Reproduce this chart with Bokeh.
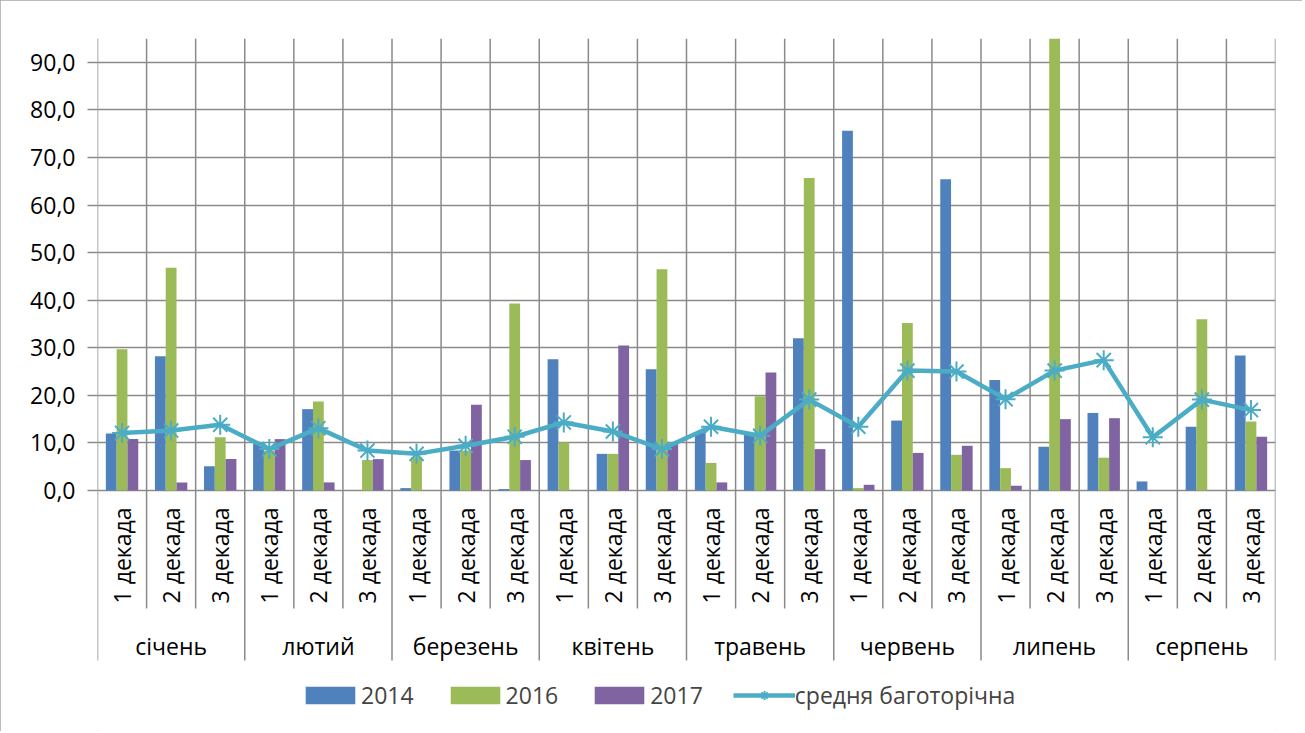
from bokeh.plotting import figure
from bokeh.models import (FixedTicker, Range1d, ColumnDataSource, Legend, LegendItem)
from bokeh.core.properties import value
from bokeh.transform import dodge
from bokeh.embed import file_html
from bokeh.resources import INLINE
import math

# ---------------- data ----------------
months = ["січень", "лютий", "березень", "квітень", "травень", "червень", "липень", "серпень"]
decades = ["1 декада", "2 декада", "3 декада"]
series_names = ["2014", "2016", "2017", "средня баготорічна"]

y2014 = [12.0, 28.2, 5.1, 9.9, 17.1, 0.0, 0.5, 8.4, 0.3, 27.6, 7.7, 25.5,
         12.2, 11.9, 32.0, 75.6, 14.7, 65.4, 23.2, 9.2, 16.3, 1.9, 13.4, 28.4]
y2016 = [29.7, 46.8, 11.2, 8.4, 18.7, 6.4, 7.0, 8.4, 39.3, 10.1, 7.7, 46.5,
         5.8, 19.8, 65.7, 0.5, 35.2, 7.5, 4.7, 95.0, 6.9, 0.0, 36.0, 14.5]
y2017 = [10.8, 1.7, 6.6, 10.8, 1.7, 6.6, 0.0, 18.0, 6.4, 0.0, 30.5, 9.8,
         1.7, 24.8, 8.7, 1.2, 7.9, 9.4, 1.0, 15.0, 15.2, 0.0, 0.0, 11.3]
avg = [12.1, 12.6, 13.8, 8.7, 13.1, 8.4, 7.7, 9.4, 11.3, 14.3, 12.4, 8.7,
       13.4, 11.5, 19.1, 13.4, 25.2, 25.0, 19.2, 25.2, 27.4, 11.2, 19.1, 16.9]
y_ticks = [0, 10, 20, 30, 40, 50, 60, 70, 80, 90]
Y_MAX = 95

# ---------------- styling / layout ----------------
FONT = "Open Sans"
FS = "23px"
GRID = "#8a8a8a"
C2014, C2016, C2017, CAVG = "#4F81BD", "#9BBB59", "#8064A2", "#4BACC6"

W, H = 1302, 731
LEFT, RIGHT, TOP = 97, 27, 38
PLOT_PX = 452                      # pixels between value 0 and Y_MAX
PX = PLOT_PX / Y_MAX               # pixels per data unit
BELOW_PX = H - TOP - PLOT_PX       # pixels of category area below value 0
y_low = -BELOW_PX / PX


def px_down(d):
    """data-y of a point d pixels below the value axis"""
    return -d / PX


n = len(y2014)
centers = [i + 0.5 for i in range(n)]
bounds = [float(i) for i in range(n + 1)]
month_centers = [3 * m + 1.5 for m in range(len(months))]
decade_labels = [decades[i % 3] for i in range(n)]
sep_bottom = [px_down(170) if i % 3 == 0 else px_down(118) for i in range(n + 1)]

src = ColumnDataSource(dict(x=centers, y2014=y2014, y2016=y2016, y2017=y2017, avg=avg))

p = figure(width=W, height=H, x_range=Range1d(0, n), y_range=Range1d(y_low, Y_MAX),
           output_backend="svg", toolbar_location=None, x_axis_location=None,
           min_border_left=LEFT, min_border_right=RIGHT, min_border_top=TOP,
           min_border_bottom=0)
p.outline_line_color = None
p.background_fill_color = "white"
p.border_fill_color = "white"
p.styles = {"outline": "1px solid #a6a6a6", "outline-offset": "-1px"}

for g in p.xgrid:
    g.visible = False
p.ygrid.ticker = FixedTicker(ticks=y_ticks)
p.ygrid.grid_line_color = GRID
p.ygrid.grid_line_width = 1.5

# y axis (ticks/labels only; its line is the first separator)
ya = p.yaxis[0]
ya.ticker = FixedTicker(ticks=y_ticks)
ya.major_label_overrides = {v: f"{v:.1f}".replace(".", ",") for v in y_ticks}
ya.major_tick_out = 10
ya.major_tick_in = 0
ya.minor_tick_line_color = None
ya.axis_line_color = None
ya.major_tick_line_color = GRID
ya.major_tick_line_width = 1.5
ya.major_label_text_font = FONT
ya.major_label_text_font_size = FS
ya.major_label_text_color = "black"
ya.major_label_standoff = 12

# category separators (plot grid + category axis ticks)
p.segment(x0=bounds, y0=[Y_MAX] * len(bounds), x1=bounds, y1=sep_bottom,
          line_color=GRID, line_width=1.5)

# category labels
p.text(x=centers, y=[px_down(17)] * n, text=decade_labels, angle=math.pi / 2,
       text_align="right", text_baseline="middle", text_color="black",
       text_font=value(FONT), text_font_size=value(FS))
p.text(x=month_centers, y=[px_down(155)] * len(months), text=months,
       text_align="center", text_baseline="middle", text_color="black",
       text_font=value(FONT), text_font_size=value(FS))

# bars
bw = 0.22
r1 = p.vbar(x=dodge("x", -bw, range=p.x_range), top="y2014", width=bw, source=src,
            fill_color=C2014, line_color=None)
r2 = p.vbar(x=dodge("x", 0, range=p.x_range), top="y2016", width=bw, source=src,
            fill_color=C2016, line_color=None)
r3 = p.vbar(x=dodge("x", bw, range=p.x_range), top="y2017", width=bw, source=src,
            fill_color=C2017, line_color=None)

# average line
rl = p.line("x", "avg", source=src, line_color=CAVG, line_width=4.5)
rs = p.scatter("x", "avg", source=src, marker="asterisk", size=20,
               line_color=CAVG, line_width=2)

legend = Legend(items=[LegendItem(label=series_names[0], renderers=[r1]),
                       LegendItem(label=series_names[1], renderers=[r2]),
                       LegendItem(label=series_names[2], renderers=[r3]),
                       LegendItem(label=series_names[3], renderers=[rl, rs])],
                orientation="horizontal", location=(202, 20),
                glyph_width=62, glyph_height=22, label_standoff=0, spacing=30,
                label_text_font=FONT, label_text_font_size=FS,
                border_line_color=None, background_fill_alpha=0,
                padding=0, margin=0)
p.add_layout(legend, "center")

open("out.html", "w").write(file_html(p, INLINE))
